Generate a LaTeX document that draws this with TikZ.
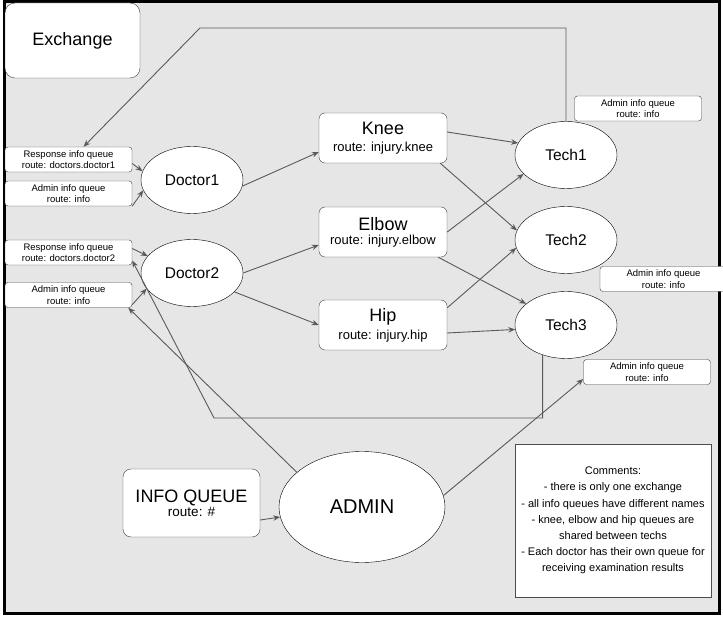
\documentclass[tikz,border=0pt]{standalone}
\usepackage{fontspec}
\setmainfont{Liberation Sans}
\usetikzlibrary{arrows.meta,shapes.geometric}

\definecolor{bggray}{HTML}{E6E6E6}
\definecolor{edgegray}{HTML}{5A5A5A}

\tikzset{
  queuebox/.style={draw=black!75, fill=white, rounded corners=3pt,
    minimum width=127pt, minimum height=25pt, inner sep=0pt, align=center,
    font=\fontsize{9.5}{11.5}\selectfont},
  routebox/.style={draw=black!75, fill=white, rounded corners=6pt,
    minimum width=128pt, minimum height=50pt, inner sep=0pt, align=center},
  service/.style={draw, fill=white, ellipse, minimum width=102pt,
    minimum height=67pt, inner sep=0pt, font=\fontsize{15.5}{18}\selectfont},
  link/.style={draw=edgegray, line width=0.9pt, -{Stealth[length=7pt,width=5.5pt]}},
}

\begin{document}
\begin{tikzpicture}[x=1pt, y=-1pt]
\useasboundingbox (0,0) rectangle (723,620);
\draw [line width=3pt, fill=bggray] (4,2) rectangle (719,613);

\node [draw=black!75, fill=white, rounded corners=10pt, minimum width=135pt,
       minimum height=75pt, font=\fontsize{18}{21}\selectfont] (exchange) at (72.5,40.5) {Exchange};

% queues on the doctor side
\node [queuebox] (resp1) at (68.5,159.5) {Response info queue\\route: doctors.doctor1};
\node [queuebox] (adm1)  at (68.5,193.5) {Admin info queue\\route: info};
\node [queuebox] (resp2) at (68.5,252.5) {Response info queue\\route: doctors.doctor2};
\node [queuebox] (adm2)  at (68.5,295)   {Admin info queue\\route: info};

\node [service] (d1) at (192,180) {Doctor1};
\node [service] (d2) at (192,273) {Doctor2};

\node [routebox] (knee)  at (383,138)
  {{\fontsize{18}{20}\selectfont Knee}\\[5pt]{\fontsize{13}{15}\selectfont route: injury.knee}};
\node [routebox] (elbow) at (383,232)
  {{\fontsize{18}{20}\selectfont Elbow}\\[2pt]{\fontsize{13}{15}\selectfont route: injury.elbow}};
\node [routebox] (hip)   at (383,325)
  {{\fontsize{18}{20}\selectfont Hip}\\[4pt]{\fontsize{13}{15}\selectfont route: injury.hip}};

\node [service] (t1) at (566,155) {Tech1};
\node [service] (t2) at (566,240) {Tech2};
\node [service] (t3) at (566,325) {Tech3};

% queues on the tech side
\node [queuebox] (admt1) at (638,108.5) {Admin info queue\\route: info};
\node [queuebox] (admt2) at (663.5,279) {Admin info queue\\route: info};
\node [queuebox] (admt3) at (647,372)   {Admin info queue\\route: info};

\node [draw=black!75, fill=white, rounded corners=8pt, minimum width=137pt,
       minimum height=68pt, inner sep=0pt, align=center] (infoq) at (191.5,503)
  {{\fontsize{18}{20}\selectfont INFO QUEUE}\\[0pt]{\fontsize{13.5}{15}\selectfont route: \#}};
\node [service, minimum width=166pt, minimum height=111pt,
       font=\fontsize{20}{24}\selectfont] (admin) at (362,507) {ADMIN};

\node [draw=black!70, fill=white, minimum width=196pt, minimum height=153pt,
       inner sep=0pt, align=center, font=\fontsize{11}{16.2}\selectfont] (notes) at (613,520.5)
  {Comments:\\- there is only one exchange\\- all info queues have different names\\
   - knee, elbow and hip queues are\\shared between techs\\
   - Each doctor has their own queue for\\receiving examination results};

% queue -> consumer
\draw [link] ([yshift=-4pt]resp1.east) -- (d1.170);
\draw [link] (adm1.south east) -- (d1.192);
\draw [link] ([yshift=4pt]resp2.east) -- (d2.159);
\draw [link] ([yshift=3pt]adm2.south east) -- (d2.199);

\draw [link] (d1.-7) -- ([yshift=-14pt]knee.west);
\draw [link] (d2.east) -- ([yshift=-13pt]elbow.west);
\draw [link] (d2.-24) -- (hip.west);

\draw [link] ([yshift=6pt]knee.east) -- (t1.166);
\draw [link] ([xshift=-7pt]knee.south east) -- (t2.169);
\draw [link] (elbow.east) -- (t1.204);
\draw [link] ([xshift=-9pt]elbow.south east) -- (t3.152);
\draw [link] ([yshift=-8pt]hip.north east) -- (t2.189);
\draw [link] ([yshift=-8pt]hip.east) -- (t3.185);

% results back to the doctors
\coordinate (topbend) at (200,28);
\coordinate (lowbend) at (214,418);
\draw [link] (t1.north) |- (topbend) -- ([xshift=15pt]resp1.north);
\draw [link] (t3.-128) |- (lowbend) -- ([yshift=-8pt]resp2.east);

\draw [link] ([yshift=-17pt]infoq.east) -- (admin.187);
\draw [link] (admin.152) -- ([xshift=-4pt]adm2.south east);
\draw [link] (admin.8) -- ([yshift=-7pt]admt3.west);
\end{tikzpicture}
\end{document}
